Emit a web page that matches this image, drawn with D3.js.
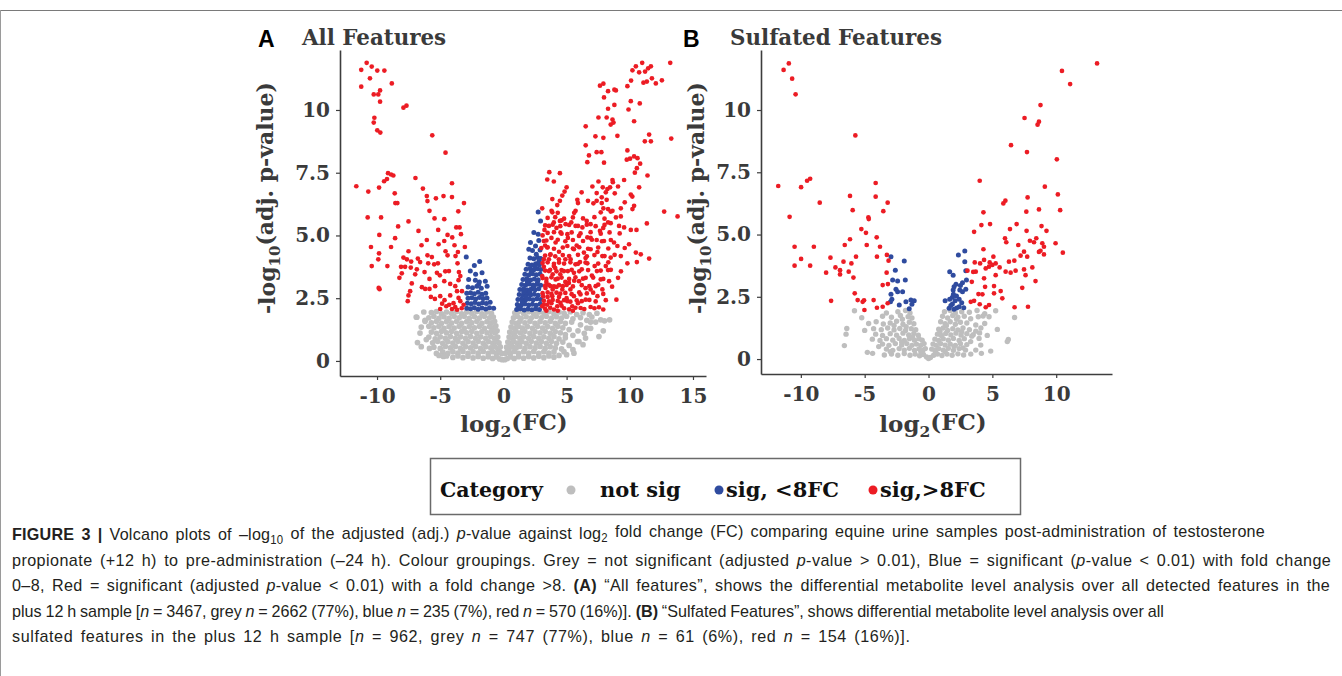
<!DOCTYPE html>
<html><head><meta charset="utf-8">
<script src="https://cdn.jsdelivr.net/npm/d3@7"></script>
<style>
body{margin:0;background:#fff;}
svg{display:block;}
</style></head><body>
<svg id="c" width="1342" height="676"></svg>
<script>
// ---------------- DATA ----------------
const categories = ["not sig", "sig, <8FC", "sig,>8FC"];
const yTickValues = [0, 2.5, 5, 7.5, 10];
const yTickLabels = ["0", "2.5", "5.0", "7.5", "10"];
const xTicksA = [-10, -5, 0, 5, 10, 15];
const xTicksB = [-10, -5, 0, 5, 10];
const panelTitles = ["All Features", "Sulfated Features"];
const panelLetters = ["A", "B"];

// Panel A : All Features  [log2FC, -log10 adj p]
const greyA = [
[-6.2,1.62],[-5.7,1.93],[-5.3,1.97],[-4.9,1.88],[-4.5,1.95],[-4.1,1.9],[-3.7,1.97],[-3.3,1.88],[-2.9,1.95],[-2.5,1.9],[-2.1,1.97],[-1.7,1.88],[-1.3,1.95],[-0.95,1.9],[0.9,1.92],[1.2,1.97],[1.6,1.9],[2.0,1.96],[2.4,1.88],[2.8,1.95],[3.2,1.9],[3.6,1.97],[4.0,1.88],[4.4,1.95],[4.8,1.9],[5.3,1.96],[5.8,1.85],[6.3,1.92],[7.0,1.75],[7.7,1.64],[8.4,1.64],[6.9,1.55],
[-6.85,1.74],[-5.9,1.72],[-5.5,1.78],[-5.1,1.7],[-4.7,1.76],[-4.3,1.7],[-3.9,1.78],[-3.5,1.72],[-3.1,1.78],[-2.7,1.7],[-2.3,1.77],[-1.9,1.71],[-1.5,1.78],[-1.1,1.72],[-0.8,1.75],[0.8,1.72],[1.1,1.78],[1.4,1.7],[1.8,1.76],[2.2,1.71],[2.6,1.78],[3.0,1.72],[3.4,1.78],[3.8,1.7],[4.2,1.76],[4.6,1.71],[5.0,1.78],[5.5,1.68],[6.1,1.73],[6.6,1.62],
[-6.2,1.58],[-5.7,1.52],[-5.3,1.58],[-4.9,1.5],[-4.5,1.57],[-4.1,1.51],[-3.7,1.58],[-3.3,1.5],[-2.9,1.57],[-2.5,1.52],[-2.1,1.58],[-1.7,1.5],[-1.3,1.57],[-0.95,1.52],[-0.7,1.58],[0.7,1.55],[1.0,1.5],[1.3,1.58],[1.7,1.52],[2.1,1.58],[2.5,1.5],[2.9,1.57],[3.3,1.52],[3.7,1.58],[4.1,1.5],[4.5,1.57],[4.9,1.5],[5.4,1.55],[6.1,1.44],[6.6,1.31],
[-6.6,1.11],[-5.9,1.38],[-5.5,1.32],[-5.1,1.38],[-4.7,1.3],[-4.3,1.37],[-3.9,1.31],[-3.5,1.38],[-3.1,1.3],[-2.7,1.37],[-2.3,1.32],[-1.9,1.38],[-1.5,1.3],[-1.1,1.37],[-0.8,1.32],[-0.6,1.4],[0.6,1.35],[0.85,1.3],[1.2,1.38],[1.5,1.31],[1.9,1.37],[2.3,1.3],[2.7,1.38],[3.1,1.31],[3.5,1.37],[3.9,1.3],[4.3,1.38],[4.7,1.32],[5.2,1.25],[5.9,1.2],[6.5,0.91],
[-5.7,1.15],[-5.3,1.1],[-4.9,1.18],[-4.5,1.12],[-4.1,1.18],[-3.7,1.1],[-3.3,1.17],[-2.9,1.12],[-2.5,1.18],[-2.1,1.1],[-1.7,1.17],[-1.3,1.12],[-0.95,1.18],[-0.65,1.12],[-0.5,1.2],[0.5,1.15],[0.75,1.1],[1.0,1.18],[1.35,1.12],[1.7,1.18],[2.1,1.1],[2.5,1.17],[2.9,1.12],[3.3,1.18],[3.7,1.1],[4.1,1.17],[4.5,1.12],[4.9,1.05],[5.5,1.02],[7.56,0.97],
[-6.8,0.73],[-5.9,0.95],[-5.4,0.88],[-5.0,0.96],[-4.6,0.9],[-4.2,0.97],[-3.8,0.9],[-3.4,0.96],[-3.0,0.9],[-2.6,0.97],[-2.2,0.9],[-1.8,0.96],[-1.4,0.9],[-1.0,0.97],[-0.7,0.9],[-0.45,0.95],[0.45,0.95],[0.7,0.9],[0.95,0.97],[1.3,0.9],[1.6,0.96],[2.0,0.9],[2.4,0.97],[2.8,0.9],[3.2,0.96],[3.6,0.9],[4.0,0.97],[4.4,0.88],[4.9,0.92],[5.98,0.77],
[-6.5,0.57],[-5.6,0.72],[-5.2,0.78],[-4.8,0.7],[-4.4,0.77],[-4.0,0.71],[-3.6,0.78],[-3.2,0.7],[-2.8,0.77],[-2.4,0.71],[-2.0,0.78],[-1.6,0.7],[-1.2,0.77],[-0.85,0.71],[-0.55,0.78],[-0.35,0.72],[0.35,0.75],[0.55,0.7],[0.8,0.78],[1.1,0.71],[1.45,0.77],[1.8,0.7],[2.2,0.78],[2.6,0.71],[3.0,0.77],[3.4,0.7],[3.8,0.78],[4.2,0.7],[4.7,0.75],[5.85,0.77],[5.2,0.62],
[-5.5,0.55],[-5.0,0.5],[-4.6,0.58],[-4.2,0.52],[-3.8,0.58],[-3.4,0.5],[-3.0,0.57],[-2.6,0.52],[-2.2,0.58],[-1.8,0.5],[-1.4,0.57],[-1.0,0.52],[-0.7,0.58],[-0.45,0.5],[-0.25,0.56],[0.25,0.55],[0.45,0.5],[0.7,0.58],[1.0,0.52],[1.3,0.58],[1.7,0.5],[2.1,0.57],[2.5,0.52],[2.9,0.58],[3.3,0.5],[3.7,0.57],[4.1,0.52],[4.6,0.48],
[-5.3,0.3],[-4.8,0.36],[-4.4,0.3],[-4.0,0.37],[-3.6,0.31],[-3.2,0.38],[-2.8,0.3],[-2.4,0.37],[-2.0,0.31],[-1.6,0.38],[-1.2,0.3],[-0.85,0.37],[-0.55,0.3],[-0.3,0.36],[-0.15,0.3],[0.15,0.3],[0.3,0.37],[0.55,0.31],[0.85,0.38],[1.2,0.3],[1.6,0.37],[2.0,0.31],[2.4,0.38],[2.8,0.3],[3.2,0.37],[3.6,0.31],[4.0,0.36],[4.79,0.37],[5.58,0.31],
[-4.5,0.2],[-4.0,0.14],[-3.6,0.2],[-3.2,0.13],[-2.8,0.19],[-2.4,0.12],[-2.0,0.18],[-1.6,0.11],[-1.2,0.17],[-0.85,0.1],[-0.55,0.16],[-0.3,0.08],[-0.1,0.05],[0.1,0.05],[0.3,0.09],[0.55,0.16],[0.85,0.1],[1.2,0.17],[1.6,0.11],[2.0,0.18],[2.4,0.12],[2.8,0.19],[3.2,0.13],[3.6,0.2],[4.0,0.15],
[-6.9,1.75],[-6.5,1.35],[-6.1,0.85],[-6.3,1.95],[-5.85,0.5],[-5.1,0.22],[-4.75,0.18],[6.4,1.1],[6.9,1.3],[7.3,1.55],[8.0,1.6],[6.3,0.65],[5.5,0.45],[5.0,0.25],[4.4,0.22],[7.9,1.2],[6.8,1.85],[7.4,1.9]
];
const blueA = [
[-2.94,4.14],[-1.88,3.96],[-2.3,3.8],[-2.62,3.58],[-1.69,3.51],[-2.2,3.45],[-2.75,3.25],[-2.22,3.22],[-1.9,3.15],[-1.43,3.18],[-1.96,3.05],[-2.8,2.95],[-2.45,2.92],[-2.1,2.98],[-1.75,2.9],[-1.29,2.98],[-2.9,2.7],[-2.6,2.72],[-2.3,2.68],[-2.0,2.74],[-1.7,2.66],[-1.4,2.7],
[-2.8,2.5],[-2.5,2.52],[-2.2,2.47],[-1.9,2.53],[-1.6,2.49],[-1.3,2.51],[-2.85,2.3],[-2.55,2.28],[-2.25,2.33],[-1.95,2.27],[-1.65,2.32],[-1.35,2.29],[-1.05,2.34],[-2.9,2.1],[-2.6,2.08],[-2.3,2.12],[-2.0,2.06],[-1.7,2.11],[-1.4,2.07],[-1.1,2.12],[-0.77,2.1],
[1.05,2.05],[1.35,2.08],[1.65,2.03],[1.95,2.07],[2.25,2.04],[2.55,2.08],[2.85,2.05],
[1.1,2.25],[1.4,2.22],[1.7,2.27],[2.0,2.23],[2.3,2.26],[2.6,2.22],[2.9,2.27],
[1.15,2.45],[1.45,2.48],[1.75,2.43],[2.05,2.47],[2.35,2.44],[2.65,2.48],[2.95,2.45],
[1.25,2.65],[1.55,2.62],[1.85,2.67],[2.15,2.63],[2.45,2.66],[2.75,2.62],
[1.3,2.85],[1.6,2.88],[1.9,2.83],[2.2,2.87],[2.5,2.84],[2.8,2.88],
[1.45,3.05],[1.75,3.02],[2.05,3.07],[2.35,3.03],[2.65,3.06],[2.95,3.02],
[1.55,3.25],[1.85,3.28],[2.15,3.23],[2.45,3.27],[2.75,3.24],
[1.7,3.45],[2.0,3.42],[2.3,3.47],[2.6,3.43],[2.9,3.46],
[1.8,3.65],[2.1,3.68],[2.4,3.63],[2.7,3.67],[2.95,3.64],
[1.95,3.85],[2.25,3.82],[2.55,3.87],[2.85,3.83],
[2.1,4.1],[2.4,4.07],[2.7,4.12],[2.95,4.08],
[2.01,4.45],[2.3,4.4],[2.54,4.58],[2.9,4.42],
[2.14,4.72],[2.8,4.8],[2.41,5.12],[2.75,5.05],[2.94,5.58],[2.75,5.93],
[1.2,2.15],[1.5,2.35],[1.8,2.55],[2.1,2.75],[2.4,2.95],[2.7,3.15],[1.6,2.75],[1.9,3.15],[2.2,3.55],[2.5,3.75],[2.8,3.95],[2.6,4.25]
];
const redA = [
[-10.82,11.88],[-10.42,11.73],[-11.25,11.6],[-9.98,11.57],[-9.42,11.57],[-10.56,11.26],[-8.83,11.06],[-11.25,10.93],[-10.26,10.62],[-9.9,10.62],[-9.76,10.78],[-9.76,10.33],[-7.91,10.09],[-7.67,10.17],[-10.21,9.69],[-10.26,9.5],[-9.98,9.19],[-9.74,9.1],[-5.63,8.99],[-4.58,8.3],
[-9.13,7.48],[-8.89,7.43],[-8.71,7.39],[-9.21,7.25],[-9.44,7.16],[-6.96,7.29],[-11.64,6.96],[-10.69,6.75],[-9.84,6.91],[-8.6,6.68],[-8.55,6.29],[-8.39,6.29],[-6.37,6.87],[-4.07,7.08],[-6.06,6.57],[-6.01,6.37],[-5.34,6.48],[-4.74,6.57],[-4.07,6.53],[-3.12,6.29],[-5.85,5.98],[-3.57,5.96],
[-10.74,5.72],[-9.68,5.72],[-8.33,5.36],[-7.51,5.56],[-5.45,5.68],[-4.68,5.65],[-9.82,5.02],[-6.72,5.18],[-5.16,5.22],[-3.73,5.32],[-3.47,5.32],[-4.42,5.02],[-3.36,5.05],
[-10.48,4.54],[-8.89,4.54],[-8.57,4.89],[-6.06,4.82],[-6.48,4.61],[-5.13,4.65],[-4.68,4.78],[-4.05,4.92],[-3.87,4.61],[-3.05,4.54],[-7.51,4.37],[-4.58,4.37],[-9.84,4.29],[-3.6,4.34],[-9.9,4.05],[-10.42,3.78],[-9.18,3.78],[-7.91,4.12],[-7.64,4.05],[-7.3,3.96],[-6.77,4.08],[-6.59,3.94],[-6.01,4.21],[-5.66,4.14],[-5.48,3.85],[-5.18,3.89],[-5.95,3.89],[-4.42,4.21],[-3.79,4.18],[-3.63,3.89],
[-8.1,3.75],[-7.78,3.75],[-7.33,3.72],[-6.85,3.65],[-8.04,3.49],[-8.23,3.31],[-6.98,3.45],[-6.24,3.54],[-5.85,3.27],[-5.26,3.51],[-4.6,3.57],[-4.31,3.58],[-5.03,3.41],[-3.52,3.54],[-3.41,3.38],[-3.55,3.22],[-7.25,3.09],[-6.45,2.94],[-6.19,2.87],[-5.85,2.87],[-5.4,2.98],[-4.68,3.18],[-4.21,3.07],[-3.81,2.98],[-9.87,2.91],[-9.8,2.86],[-7.38,2.78],[-7.51,2.61],[-3.67,2.78],[-3.28,2.78],
[-5.74,2.55],[-5.42,2.47],[-5.0,2.58],[-4.66,2.42],[-4.21,2.61],[-3.55,2.51],[-3.41,2.38],[-7.57,2.38],[-5.0,2.07],[-4.52,2.18],[-4.07,2.07],[-3.81,2.15],[-3.67,2.04],[-3.15,2.24],[-4.29,2.24],[-3.95,2.3],[-3.3,2.1],[-4.85,2.28],
[13.2,11.88],[10.98,11.88],[10.48,11.74],[11.67,11.74],[10.21,11.58],[10.74,11.5],[11.21,11.53],[11.45,11.66],[11.75,11.26],[12.54,11.18],[11.08,11.09],[11.35,11.13],[12.06,11.06],[9.81,10.95],[10.1,11.17],[7.64,10.97],[7.91,11.05],[8.28,10.75],[8.78,10.81],[8.9,10.78],[7.96,10.5],[10.08,10.35],[10.79,10.26],[8.28,10.05],[8.78,10.2],[9.9,10.02],
[7.52,9.7],[8.17,9.7],[8.63,9.62],[8.49,9.42],[8.71,9.5],[10.34,9.55],[6.51,9.35],[7.28,8.95],[7.91,8.89],[9.02,8.97],[11.19,8.75],[11.67,8.75],[11.53,9.02],[13.28,8.86],[6.51,8.59],[9.81,8.39],[7.38,8.32],[7.75,8.32],[6.77,8.19],[9.76,8.02],[10.02,8.06],[10.34,8.15],[10.61,8.08],[6.64,7.92],[7.96,7.9],[10.82,7.86],[10.56,7.68],[10.4,7.5],[11.4,7.39],
[3.63,7.52],[4.47,7.48],[3.47,7.23],[3.99,7.15],[5.0,6.92],[4.84,6.75],[4.66,6.59],[4.47,6.38],[4.26,6.21],[3.87,6.45],[7.04,6.95],[7.52,7.15],[7.86,6.92],[8.63,7.21],[8.66,7.12],[8.23,6.85],[9.07,6.95],[9.55,7.21],[8.44,6.92],[10.74,6.92],[6.19,6.72],[7.38,6.69],[8.1,6.72],[8.81,6.68],[10.08,6.63],[10.2,6.55],
[5.85,6.42],[5.9,6.29],[6.69,6.38],[7.12,6.28],[7.38,6.38],[7.78,6.52],[7.78,6.29],[8.17,6.42],[9.6,6.32],[10.34,6.18],[8.28,6.05],[8.63,5.98],[9.29,6.08],[10.21,6.05],[5.71,5.98],[7.91,6.08],[12.72,5.95],[3.07,6.08],[3.81,5.98],
[13.78,5.76],[11.35,5.48],[10.53,5.22],[10.08,5.22],[9.55,5.32],[9.15,5.38],[8.49,5.49],[8.28,5.52],[7.7,5.92],[8.49,5.95],[9.29,5.76],[7.64,5.18],[6.9,5.45],[6.59,5.58],[6.25,5.32],[5.71,5.38],[5.37,5.52],[4.92,5.45],[4.47,5.58],[3.99,5.52],[3.6,5.38],[3.25,5.22],[3.87,5.92],[4.3,5.9],
[4.52,5.12],[5.06,5.05],[5.98,4.98],[6.64,4.92],[7.38,4.82],[7.96,4.78],[8.75,4.72],[9.02,4.58],[9.94,4.65],[10.48,4.32],[10.87,4.25],[11.53,4.08],[10.56,3.94],[9.81,3.89],[9.29,4.18],[8.49,4.12],[7.83,4.18],[7.44,4.34],[6.9,4.45],[6.37,4.32],[5.58,4.45],[5.06,4.58],[4.13,4.72],[3.47,4.52],[3.2,4.78],[3.73,4.25],[4.39,4.05],[5.32,4.05],[6.06,3.94],[6.64,3.89],[7.22,3.78],[8.1,3.78],[8.28,3.62],[9.07,3.31],[8.36,3.18],[7.7,3.25],[7.3,2.98],[7.83,2.85],[8.94,2.44],[7.44,2.58],[6.9,2.15],[7.56,2.14],[6.51,2.44],[6.11,2.11],[5.45,2.18],[5.58,2.58],[5.06,2.38],[4.66,2.85],[5.18,3.11],[5.98,3.18],[6.51,3.31],[6.9,2.85],[4.13,3.25],[3.6,3.58],[3.33,2.91],[3.87,2.58],[3.47,2.24],[4.26,2.18],[4.52,2.31],[3.07,2.18],[3.99,3.78],[4.79,3.58],[5.58,3.51],[3.2,4.05],[3.07,3.38],[3.73,2.98],[3.15,2.58],
[3.3,2.08],[3.7,2.12],[4.0,2.05],[4.8,2.1],[5.2,2.06],[5.7,2.12],[6.4,2.07],[7.2,2.1],[7.9,2.05],
[3.2,2.4],[3.6,2.37],[3.9,2.43],[4.3,2.39],[4.8,2.42],[5.3,2.36],[5.8,2.41],[6.2,2.38],[6.8,2.43],[7.3,2.37],[8.1,2.42],
[3.1,2.7],[3.5,2.73],[3.8,2.67],[4.2,2.72],[4.5,2.68],[4.9,2.71],[5.4,2.66],[6.0,2.73],[6.6,2.69],[7.1,2.72],[7.9,2.67],
[3.3,3.0],[3.6,3.03],[4.0,2.97],[4.4,3.02],[4.7,2.98],[5.0,3.03],[5.5,2.97],[6.2,3.02],[6.8,2.98],[7.5,3.04],[8.6,2.96],
[3.1,3.3],[3.4,3.27],[3.8,3.33],[4.3,3.28],[4.6,3.32],[5.2,3.27],[5.7,3.33],[6.3,3.28],[7.1,3.32],[7.9,3.27],
[3.3,3.6],[3.7,3.63],[4.2,3.57],[4.6,3.62],[5.1,3.58],[5.4,3.63],[6.0,3.57],[6.7,3.62],[7.4,3.58],[8.5,3.63],[9.3,3.57],
[3.1,3.9],[3.5,3.93],[4.0,3.87],[4.4,3.92],[4.8,3.88],[5.3,3.93],[5.9,3.87],[6.5,3.92],[7.5,3.88],[8.3,3.93],
[3.3,4.2],[3.7,4.23],[4.1,4.17],[4.7,4.22],[5.2,4.18],[5.9,4.23],[6.6,4.17],[7.2,4.22],[8.0,4.18],[8.8,4.23],
[3.0,4.5],[3.5,4.53],[4.0,4.47],[4.7,4.52],[5.5,4.48],[6.0,4.53],[6.7,4.47],[7.5,4.52],[8.3,4.48],[9.6,4.5],
[3.4,4.8],[4.3,4.83],[4.9,4.77],[5.5,4.82],[6.3,4.78],[7.0,4.83],[7.8,4.77],[8.5,4.82],
[3.5,5.1],[4.0,5.13],[4.6,5.07],[5.4,5.12],[6.1,5.08],[6.9,5.13],[7.7,5.07],[8.4,5.12],[9.2,5.08],
[3.3,5.4],[3.9,5.43],[4.5,5.37],[5.2,5.42],[5.9,5.38],[6.6,5.43],[7.3,5.37],[8.0,5.42],
[3.5,5.7],[4.1,5.73],[4.8,5.67],[5.5,5.72],[6.3,5.68],[7.2,5.73],[8.0,5.67],[8.9,5.72],
[3.2,2.25],[3.5,2.55],[3.9,2.85],[4.4,2.55],[4.6,2.2],[3.4,3.15],[3.9,3.45],[4.5,3.45],[4.9,3.15],[5.3,2.85],[5.6,3.2],[3.2,3.75],[3.6,4.05],[4.1,3.7],[4.4,4.35],[4.9,4.05],[5.7,3.85],[6.2,3.65],[6.1,2.65],[6.5,2.9],[5.9,2.3],[4.2,2.95],[3.8,2.3],[5.0,2.5],[3.3,4.6],[3.8,4.9],[4.2,5.3],[5.1,4.9],[5.8,4.6],[6.5,4.1],[7.0,3.4],[7.7,3.6],[6.9,4.9],[7.9,5.3],[3.1,5.0],[4.6,5.6],[5.6,5.9],[3.4,2.0],[4.3,2.0],[5.5,2.0]
];

// Panel B : Sulfated Features
const greyB = [
[-5.8,1.94],[-3.3,1.85],[-2.4,1.9],[-1.8,1.95],[-1.45,1.85],[1.25,1.9],[1.7,1.95],[2.1,1.85],[2.6,1.9],[3.2,1.88],[3.8,1.95],[4.4,1.82],[5.26,1.94],
[-5.23,1.66],[-3.6,1.72],[-2.9,1.68],[-2.2,1.75],[-1.6,1.7],[-1.3,1.65],[1.1,1.72],[1.5,1.65],[1.9,1.75],[2.3,1.68],[2.8,1.72],[3.3,1.62],[3.9,1.7],[4.27,1.73],[4.74,1.7],[6.74,1.67],
[-6.4,1.23],[-4.69,1.43],[-4.1,1.5],[-3.54,1.41],[-3.0,1.45],[-2.5,1.52],[-2.0,1.4],[-1.5,1.48],[-1.15,1.42],[0.95,1.5],[1.3,1.42],[1.7,1.5],[2.1,1.4],[2.5,1.48],[3.0,1.45],[3.7,1.37],[4.4,1.43],[5.39,1.19],
[-5.0,1.15],[-4.3,1.22],[-3.7,1.18],[-3.2,1.25],[-2.7,1.17],[-2.25,1.23],[-1.8,1.15],[-1.35,1.22],[-1.0,1.18],[0.8,1.2],[1.15,1.25],[1.5,1.15],[1.9,1.22],[2.3,1.17],[2.7,1.25],[3.2,1.18],[3.7,1.12],[4.1,1.25],
[-6.46,1.0],[-4.14,1.0],[-3.6,0.95],[-3.0,1.02],[-2.5,0.96],[-2.0,1.04],[-1.55,0.97],[-1.15,1.03],[-0.8,0.96],[0.7,1.0],[1.0,0.95],[1.35,1.03],[1.75,0.97],[2.15,1.04],[2.55,0.96],[3.0,1.02],[3.5,0.98],[4.0,1.05],[4.6,0.95],
[-4.4,0.8],[-3.8,0.75],[-3.3,0.82],[-2.8,0.76],[-2.3,0.83],[-1.9,0.75],[-1.5,0.82],[-1.1,0.76],[-0.75,0.82],[-0.5,0.76],[0.5,0.8],[0.8,0.75],[1.15,0.82],[1.55,0.76],[1.95,0.83],[2.4,0.75],[2.8,0.82],[3.39,0.92],[3.96,0.83],[6.25,0.79],[6.17,0.7],
[-6.59,0.54],[-3.6,0.6],[-3.1,0.55],[-2.6,0.62],[-2.1,0.56],[-1.7,0.62],[-1.3,0.55],[-0.95,0.6],[-0.6,0.55],[-0.35,0.62],[0.35,0.6],[0.6,0.55],[0.95,0.62],[1.3,0.56],[1.7,0.6],[2.1,0.55],[2.5,0.62],[3.0,0.58],[4.09,0.56],
[-3.3,0.4],[-2.8,0.35],[-2.3,0.42],[-1.9,0.36],[-1.5,0.43],[-1.1,0.35],[-0.75,0.41],[-0.45,0.35],[-0.25,0.42],[0.25,0.4],[0.5,0.35],[0.8,0.42],[1.15,0.36],[1.55,0.43],[1.95,0.35],[2.4,0.42],[2.9,0.36],[3.7,0.36],[4.87,0.32],
[-4.79,0.27],[-4.38,0.23],[-3.46,0.16],[-2.9,0.2],[-2.4,0.15],[-1.9,0.22],[-1.45,0.15],[-1.05,0.2],[-0.7,0.13],[-0.4,0.18],[-0.15,0.08],[0.0,0.02],[0.15,0.06],[0.4,0.15],[0.7,0.2],[1.05,0.14],[1.45,0.2],[1.85,0.15],[2.3,0.21],[2.75,0.16],[3.31,0.2],[4.14,0.23],
[-2.05,1.6],[-2.7,1.35],[-1.75,1.3],[-1.25,0.88],[-2.1,0.68],[-0.6,0.3],[0.55,0.28],[1.3,0.3],[2.0,0.5],[2.6,1.1],[2.2,1.6],[1.4,1.35],[0.9,1.1],[3.3,0.7],[2.7,0.45],[-3.9,0.5],[-3.0,0.3]
];
const blueB = [
[-2.94,4.11],[-1.9,3.94],[-2.6,3.57],[-2.81,3.17],[-2.42,3.13],[-1.82,3.17],[-2.55,2.8],[-2.42,2.7],[-2.03,2.7],[-2.94,2.6],[-2.87,2.4],[-2.98,2.3],[-2.29,2.17],[-1.77,2.3],[-1.38,2.37],[-1.12,2.34],[-1.3,2.2],[-1.51,2.02],
[2.34,4.18],[2.84,4.34],[2.84,3.91],[1.66,3.51],[1.93,3.37],[2.92,3.55],[2.97,3.17],[2.66,3.06],[2.0,2.9],[1.93,2.77],[2.45,2.77],[2.66,2.7],[2.92,2.8],[1.3,2.34],[1.66,2.4],[1.87,2.48],[2.08,2.34],[2.4,2.4],[2.6,2.26],[1.87,2.21],[1.61,2.04],[2.0,2.0],[2.4,2.1],[2.76,2.06],[2.19,2.53],[1.95,2.6],[2.2,2.05],[1.75,2.15],[2.5,2.95],[2.15,3.0]
];
const redB = [
[-10.94,11.87],[-11.35,11.61],[-10.68,11.26],[-10.41,10.63],[-5.73,8.98],[-11.77,6.95],[-9.98,6.9],[-9.51,7.16],[-9.27,7.24],[-8.52,6.28],[-6.15,6.55],[-5.94,5.98],[-4.14,7.07],[-4.14,6.52],[-3.2,6.28],[-3.54,5.94],
[13.2,11.87],[10.45,11.57],[11.09,11.04],[8.77,10.2],[7.52,9.68],[8.65,9.53],[8.54,9.41],[6.46,8.59],[7.71,8.31],[10.05,8.02],[4.01,7.16],[9.11,6.92],[10.13,6.61],[5.86,6.25],[6.02,6.36],[7.76,6.49],[4.3,5.89],[7.66,5.92],[8.65,6.01],[10.31,5.98],
[-10.88,5.71],[-4.71,5.69],[-4.68,5.62],[-5.26,5.22],[-4.9,5.07],[-4.06,4.89],[-6.15,4.81],[-6.56,4.58],[-4.84,4.58],[-3.8,4.51],[-10.49,4.51],[-8.98,4.51],[-9.98,4.02],[-7.68,4.07],[-6.66,3.91],[-6.04,3.84],[-5.68,4.11],[-4.04,4.11],[-3.26,4.18],[-3.13,3.95],[-10.49,3.75],[-9.27,3.75],[-8.02,3.47],[-7.29,3.68],[-6.93,3.57],[-6.93,3.4],[-6.25,3.51],[-5.88,3.27],[-3.28,3.47],[-3.59,2.97],[-3.18,3.01],[-5.78,2.64],[-7.63,2.34],[-5.55,2.37],[-5.16,2.3],[-5.05,2.36],[-4.3,2.37],[-5.02,1.97],[-4.04,2.06],[-3.59,2.1],[-3.2,2.24],
[4.14,5.38],[4.82,5.42],[3.57,5.11],[6.38,5.22],[6.9,5.42],[7.68,5.15],[8.85,5.34],[9.24,5.15],[5.99,4.85],[6.09,4.69],[7.03,4.58],[7.94,4.75],[8.26,4.69],[8.44,4.85],[8.91,4.65],[9.04,4.51],[8.77,4.35],[9.04,4.2],[8.65,4.3],[9.95,4.65],[10.52,4.27],[4.3,4.41],[5.08,4.11],[4.79,3.88],[3.62,3.88],[4.04,3.84],[4.35,3.98],[4.74,3.71],[4.48,3.64],[5.0,3.78],[5.26,3.84],[5.57,3.68],[6.3,3.91],[6.72,3.95],[7.21,4.15],[7.48,4.31],[7.73,4.11],[8.13,3.68],[6.04,3.51],[6.43,3.47],[6.82,3.55],[7.6,3.37],[7.48,3.6],[8.38,3.13],[7.34,2.86],[7.79,2.1],[6.74,2.08],[5.65,2.73],[5.13,2.64],[5.78,2.44],[5.13,2.93],[4.43,2.9],[4.22,2.6],[3.91,2.61],[3.7,3.51],[3.39,3.1],[3.57,2.34],[3.31,2.3],[4.01,2.2],[4.48,2.08],[4.74,2.17],[4.35,3.24],[5.26,3.37],[3.05,3.55],[3.5,3.5]
];

// ---------------- DRAW ----------------
const svg = d3.select("#c");
const COL = {grey:"#bebebe", blue:"#2f4b9f", red:"#ec1c24"};
const SERIF = "'DejaVu Serif', serif";
const AX = "#3d3d3d";

// page frame lines
svg.append("line").attr("x1",0).attr("x2",1342).attr("y1",10.5).attr("y2",10.5)
  .attr("stroke","#7a7a7a").attr("stroke-width",1.2);
svg.append("line").attr("x1",0.5).attr("x2",0.5).attr("y1",10).attr("y2",676)
  .attr("stroke","#9a9a9a").attr("stroke-width",1);

const panels = [
  {grey:greyA, blue:blueA, red:redA, xr:[340,706], xd:[-12.93,16.03], yr:[376,50], yd:[-0.6,12.39],
   xt:xTicksA, title:panelTitles[0], tx:302, letter:panelLetters[0], lx:258, ylx:268, xlx:514, rg:2.85},
  {grey:greyB, blue:blueB, red:redB, xr:[761,1112], xd:[-13.12,14.37], yr:[374,50], yd:[-0.6,12.41],
   xt:xTicksB, title:panelTitles[1], tx:730, letter:panelLetters[1], lx:683, ylx:699, xlx:933, rg:2.7}
];

panels.forEach(p => {
  const x = d3.scaleLinear().domain(p.xd).range(p.xr);
  const y = d3.scaleLinear().domain(p.yd).range(p.yr);
  const g = svg.append("g");

  const layers = [[p.grey, COL.grey, p.rg], [p.blue, COL.blue, 2.5], [p.red, COL.red, 2.35]];
  layers.forEach(([data, col, r]) => {
    g.append("g").selectAll("circle").data(data).join("circle")
      .attr("cx", d => x(d[0])).attr("cy", d => y(d[1])).attr("r", r).attr("fill", col);
  });

  const ya = d3.axisLeft(y).tickValues(yTickValues).tickFormat((d,i)=>yTickLabels[i])
    .tickSizeInner(4).tickSizeOuter(0).tickPadding(6);
  const xa = d3.axisBottom(x).tickValues(p.xt).tickFormat(d => d).tickSizeInner(4).tickSizeOuter(0).tickPadding(9);
  const gy = g.append("g").attr("transform", `translate(${p.xr[0]},0)`).call(ya);
  const gx = g.append("g").attr("transform", `translate(0,${p.yr[0]})`).call(xa);
  [gy, gx].forEach(a => {
    a.select(".domain").attr("stroke", AX).attr("stroke-width", 1.6);
    a.selectAll(".tick line").attr("stroke", AX).attr("stroke-width", 1.2);
    a.selectAll(".tick text").attr("fill", "#3a3a3a").style("font-family", SERIF)
      .style("font-weight", "bold").style("font-size", "20px");
  });

  svg.append("text").attr("x", p.tx).attr("y", 45).text(p.title)
    .style("font-family", SERIF).style("font-weight","bold").style("font-size","21.4px").attr("fill","#3a3a3a");
  svg.append("text").attr("x", p.lx).attr("y", 47).text(p.letter)
    .style("font-family","'Liberation Sans', Arial, sans-serif").style("font-weight","bold")
    .style("font-size","23px").attr("fill","#000");

  const yl = svg.append("text").attr("transform", `translate(${p.ylx+7},198) rotate(-90)`)
    .attr("text-anchor","middle").style("font-family", SERIF).style("font-weight","bold")
    .style("font-size","22px").attr("fill","#3a3a3a");
  yl.append("tspan").text("-log");
  yl.append("tspan").text("10").attr("dy","0.3em").style("font-size","15px");
  yl.append("tspan").text("(adj. p-value)").attr("dy","-0.3em");

  const xl = svg.append("text").attr("x", p.xlx).attr("y", 432).attr("text-anchor","middle")
    .style("font-family", SERIF).style("font-weight","bold").style("font-size","23px").attr("fill","#3a3a3a");
  xl.append("tspan").text("log");
  xl.append("tspan").text("2").attr("dy","0.3em").style("font-size","15.5px");
  xl.append("tspan").text("(FC)").attr("dy","-0.3em");
});

// legend
const lg = svg.append("g");
lg.append("rect").attr("x",430.5).attr("y",458.5).attr("width",590).attr("height",56)
  .attr("fill","none").attr("stroke","#6a6a6a").attr("stroke-width",1.5);
lg.append("text").attr("x",440).attr("y",497).text("Category")
  .style("font-family",SERIF).style("font-weight","bold").style("font-size","20.5px").attr("fill","#111");
const legItems = [
  {c:COL.grey, cx:571, tx:600, label:categories[0]},
  {c:COL.blue, cx:719, tx:726, label:categories[1]},
  {c:COL.red,  cx:873, tx:880, label:categories[2]}
];
legItems.forEach(it => {
  lg.append("circle").attr("cx",it.cx).attr("cy",490).attr("r",4.5).attr("fill",it.c);
  lg.append("text").attr("x",it.tx).attr("y",497).text(it.label)
    .style("font-family",SERIF).style("font-weight","bold").style("font-size","21px").attr("fill","#111");
});

// caption
const caption = [
  {y:540, w:1253, seg:[["FIGURE 3 | ","b"],["Volcano plots of \u2013log"],["10","sub"],[" of the adjusted (adj.) "],["p","i"],["-value against log"],["2","sub"],[" fold change (FC) comparing equine urine samples post-administration of testosterone"]]},
  {y:566, w:1319, seg:[["propionate (+12 h) to pre-administration (\u201324 h). Colour groupings. Grey = not significant (adjusted "],["p","i"],["-value > 0.01), Blue = significant ("],["p","i"],["-value < 0.01) with fold change"]]},
  {y:591, w:1318, seg:[["0\u20138, Red = significant (adjusted "],["p","i"],["-value < 0.01) with a fold change >8. "],["(A)","b"],[" \u201cAll features\u201d, shows the differential metabolite level analysis over all detected features in the"]]},
  {y:617, w:1152, seg:[["plus 12 h sample ["],["n","i"],[" = 3467, grey "],["n","i"],[" = 2662 (77%), blue "],["n","i"],[" = 235 (7%), red "],["n","i"],[" = 570 (16%)]. "],["(B)","b"],[" \u201cSulfated Features\u201d, shows differential metabolite level analysis over all"]]},
  {y:642, w:898, seg:[["sulfated features in the plus 12 h sample ["],["n","i"],[" = 962, grey "],["n","i"],[" = 747 (77%), blue "],["n","i"],[" = 61 (6%), red "],["n","i"],[" = 154 (16%)]."]]}
];
const SX = 0.95;
caption.forEach(line => {
  const t = svg.append("text").attr("x",0).attr("y",0)
    .style("font-family","'Liberation Sans', Arial, sans-serif").style("font-size","17px").attr("fill","#231f20");
  let shifted = false;
  line.seg.forEach(([txt, st]) => {
    const s = t.append("tspan").text(txt);
    if (st === "b") s.style("font-weight","bold");
    if (st === "i") s.style("font-style","italic");
    if (st === "sub") { s.attr("dy","0.3em").style("font-size","12px"); shifted = true; }
    else if (shifted) { s.attr("dy","-0.3em"); shifted = false; }
  });
  const w = t.node().getComputedTextLength();
  const full = line.seg.map(s => s[0]).join("");
  const n = full.length;
  const nSp = (full.match(/ /g) || []).length;
  const diff = line.w / SX - w;
  const ws = Math.max(-2.5, Math.min(2.5, diff / nSp));
  const ls = (diff - ws * nSp) / (n - 1);
  t.style("word-spacing", ws + "px").style("letter-spacing", ls + "px");
  t.attr("transform", `translate(12,${line.y}) scale(${SX},1)`);
});
</script>
</body></html>
